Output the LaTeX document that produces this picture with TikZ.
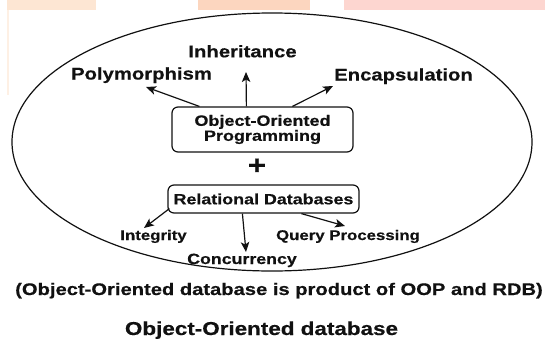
\documentclass[tikz,border=0pt]{standalone}
\usepackage{fontspec}
\setmainfont{Liberation Sans}[FakeStretch=1.2,BoldFeatures={FakeBold=0.4}]
\usetikzlibrary{arrows.meta,calc}

\definecolor{peach}{HTML}{FDE6D3}
\definecolor{apricot}{HTML}{FCD6BF}
\definecolor{blush}{HTML}{FDD6D0}
\definecolor{ink}{HTML}{111111}

\newcommand{\fs}[1]{\bfseries\fontsize{#1}{#1}\selectfont}

\begin{document}
\begin{tikzpicture}[x=1pt,y=-1pt,
  every node/.style={text=ink},
  lbl/.style={anchor=base,inner sep=0pt},
  box/.style={draw=ink,line width=1.2pt,rounded corners=6pt,inner sep=0pt,align=center},
  arr/.style={draw=ink,line width=1.2pt,-{Stealth[length=10pt,width=8.5pt,inset=2.5pt]}}]
\useasboundingbox (0,0) rectangle (545,343);
\fill[white] (0,0) rectangle (545,343);

% header bands
\fill[peach] (7,0) rectangle (96,10);
\fill[peach!60] (7,10) rectangle (9,95);
\fill[apricot] (198,0) rectangle (310,10);
\fill[blush] (344,0) rectangle (545,10);

% outer ellipse
\draw[ink,line width=1.2pt] (272,142) ellipse [x radius=260pt, y radius=129pt];

% central boxes
\node[box,minimum width=181pt,minimum height=45pt,font=\fs{15}\linespread{0.93}] (oop) at (262.5,129.5)
  {Object-Oriented\\Programming};
\node[lbl,font=\fs{26}] (plus) at (257,174) {+};
\node[box,minimum width=191pt,minimum height=28pt,font=\fs{14.9}] (rdb) at (263.5,199)
  {Relational Databases};

% OOP features
\node[lbl,font=\fs{16.9}] (inh) at (242.5,57.3) {Inheritance};
\node[lbl,font=\fs{16.9}] (poly) at (141.5,79.5) {Polymorphism};
\node[lbl,font=\fs{16.9}] (enc) at (403.5,80.5) {Encapsulation};

% database features
\node[lbl,font=\fs{14}] (integ) at (153.5,240) {Integrity};
\node[lbl,font=\fs{14.8}] (conc) at (242,264) {Concurrency};
\node[lbl,font=\fs{14}] (query) at (348,240) {Query Processing};

% captions
\node[lbl,font=\fs{16.8}] (note) at (279,295)
  {(Object-Oriented database is product of OOP and RDB)};
\node[lbl,font=\fs{18.7}] (title) at (261.5,335) {Object-Oriented database};

% arrow tips
\coordinate (polytip) at (146,87);
\coordinate (inhtip) at (246,72);
\coordinate (enctip) at (333,86);
\coordinate (integtip) at (144,228);
\coordinate (conctip) at (246,252);
\coordinate (querytip) at (345,226);

\draw[arr] ($(oop.north west)+(28,0)$) -- (polytip);
\draw[arr] ($(oop.north west)+(75,0)$) -- (inhtip);
\draw[arr] ($(oop.north west)+(121,0)$) -- (enctip);
\draw[arr] ($(rdb.south west)+(2,-5)$) -- (integtip);
\draw[arr] ($(rdb.south west)+(75,0)$) -- (conctip);
\draw[arr] ($(rdb.south west)+(134,0)$) -- (querytip);
\end{tikzpicture}
\end{document}
